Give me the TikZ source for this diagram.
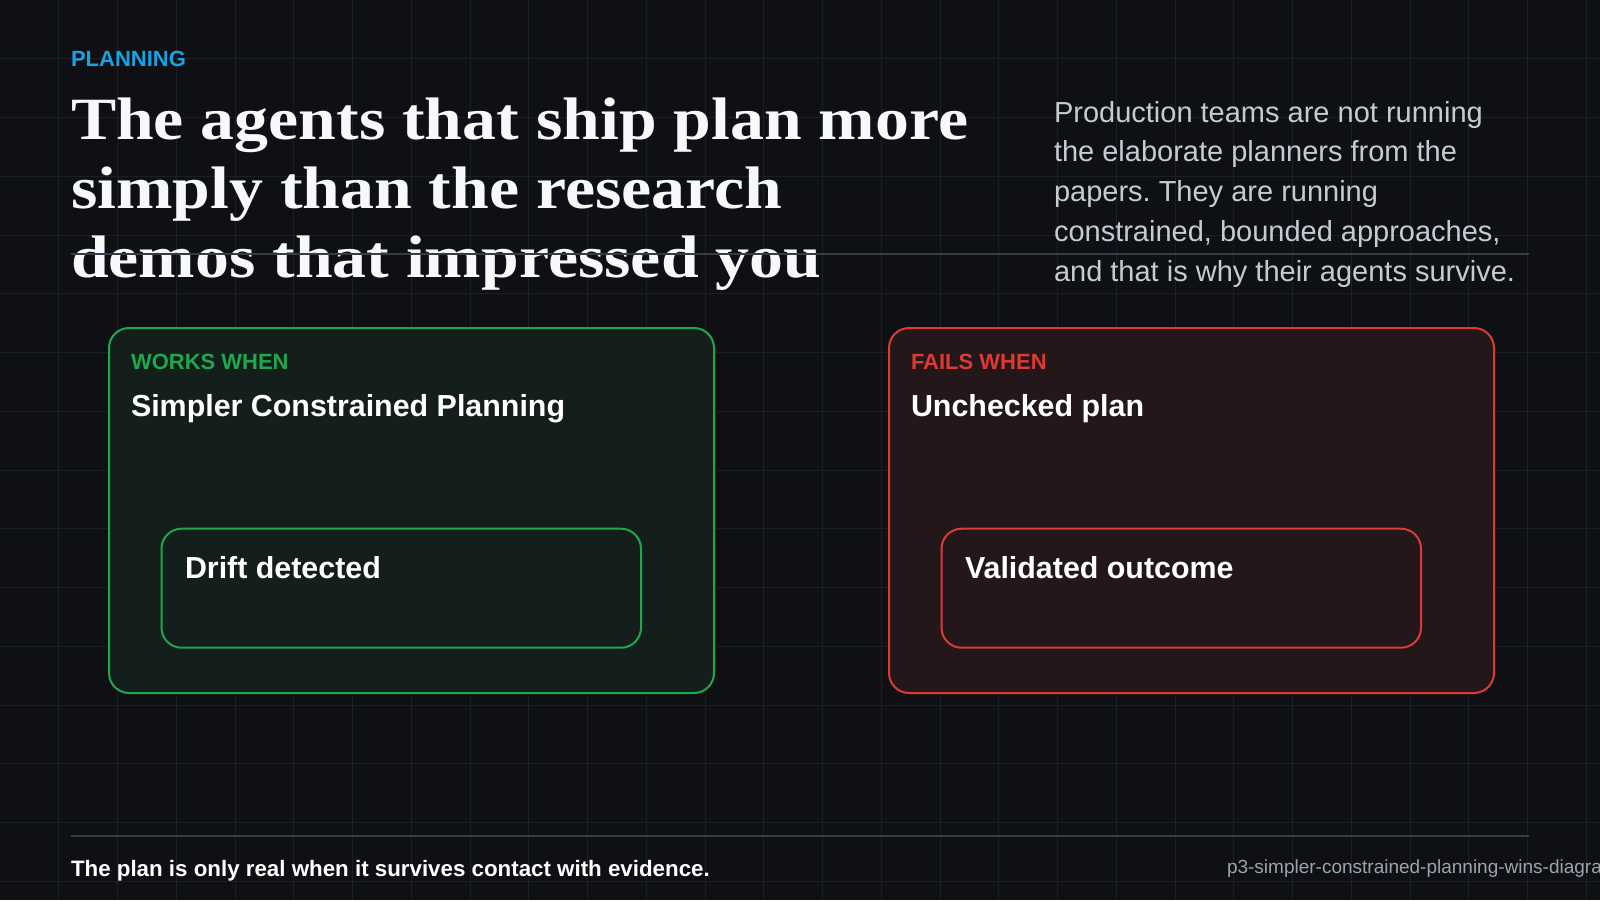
\documentclass[tikz,border=0pt]{standalone}
\usepackage{fontspec}
\setmainfont{Liberation Sans}
\newfontfamily\titlefont[FakeStretch=1.13]{Liberation Serif}
\frenchspacing
\definecolor{bg}{HTML}{0F1013}
\definecolor{gridc}{HTML}{1B1E25}
\definecolor{rulec}{HTML}{353C49}
\definecolor{accentblue}{HTML}{1BA1E2}
\definecolor{titlec}{HTML}{F7F8FA}
\definecolor{parac}{HTML}{C6CAD3}
\definecolor{footc}{HTML}{9CA3AF}
\definecolor{okline}{HTML}{20A64C}
\definecolor{okfill}{HTML}{141E1A}
\definecolor{badline}{HTML}{DD3A35}
\definecolor{badfill}{HTML}{23171A}
\tikzset{
  gridline/.style={draw=gridc, line width=0.5pt},
  hrule/.style={draw=rulec, line width=1pt},
  txt/.style={anchor=base west, inner sep=0pt, outer sep=0pt},
  kicker/.style={txt, font=\fontsize{11}{13}\selectfont\bfseries},
  cardtitle/.style={txt, text=white, font=\fontsize{15.2}{18}\selectfont\bfseries},
  cardbox/.style={anchor=north west, rectangle, rounded corners=10pt, line width=1pt,
    minimum width=302.5pt, minimum height=182.5pt, inner sep=0pt},
  innerbox/.style={anchor=north west, rectangle, rounded corners=10pt, line width=1pt,
    minimum width=239.75pt, minimum height=59.5pt, inner sep=0pt},
  titleline/.style={txt, text=titlec, font=\fontsize{30}{34.5}\selectfont\titlefont\bfseries},
}
\begin{document}
\begin{tikzpicture}[x=0.5pt,y=-0.5pt]
\useasboundingbox (0,0) rectangle (1600,900);
\clip (0,0) rectangle (1600,900);
\fill[bg] (0,0) rectangle (1600,900);
% grid
\foreach \i in {1,...,27} \draw[gridline] (\i*58.75,0) -- (\i*58.75,900);
\foreach \j in {1,...,15} \draw[gridline] (0,\j*58.75) -- (1600,\j*58.75);

% header
\node[kicker, text=accentblue] (kick) at (71,66.7) {PLANNING};
\node[titleline] (t1) at (71,139.5) {The agents that ship plan more};
\node[titleline] (t2) at (71,208.5) {simply than the research};
\node[titleline] (t3) at (71,277.5) {demos that impressed you};

\foreach \k/\l [count=\n] in {122.7/Production teams are not running,161.7/the elaborate planners from the,201.7/papers. They are running,241.7/{constrained, bounded approaches,},281.7/and that is why their agents survive.}
  \node[txt, text=parac, font=\fontsize{14.5}{20}\selectfont] (p\n) at (1054,\k) {\l};

\coordinate (r1a) at (71,254);
\coordinate (r1b) at (1529,254);
\draw[hrule] (r1a) -- (r1b);

% left card
\node[cardbox, draw=okline, fill=okfill] (lcard) at (108,327) {};
\node[kicker, text=okline] (lk) at (131,369.3) {WORKS WHEN};
\node[cardtitle] (lt) at (131,416) {Simpler Constrained Planning};
\node[innerbox, draw=okline, fill=okfill] (lin) at (160.5,527.7) {};
\node[cardtitle] (lint) at (185,578.3) {Drift detected};

% right card
\node[cardbox, draw=badline, fill=badfill] (rcard) at (888,327) {};
\node[kicker, text=badline] (rk) at (911,369.3) {FAILS WHEN};
\node[cardtitle] (rt) at (911,416) {Unchecked plan};
\node[innerbox, draw=badline, fill=badfill] (rin) at (940.5,527.7) {};
\node[cardtitle] (rint) at (965,578.3) {Validated outcome};

% footer
\coordinate (r2a) at (71,835.7);
\coordinate (r2b) at (1529,835.7);
\draw[hrule] (r2a) -- (r2b);
\node[txt, text=white, font=\fontsize{11.16}{13}\selectfont\bfseries] (foot) at (71,876.7) {The plan is only real when it survives contact with evidence.};
\node[txt, text=footc, font=\fontsize{9.5}{11}\selectfont] (fname) at (1227,873.3) {p3-simpler-constrained-planning-wins-diagram};
\end{tikzpicture}
\end{document}
